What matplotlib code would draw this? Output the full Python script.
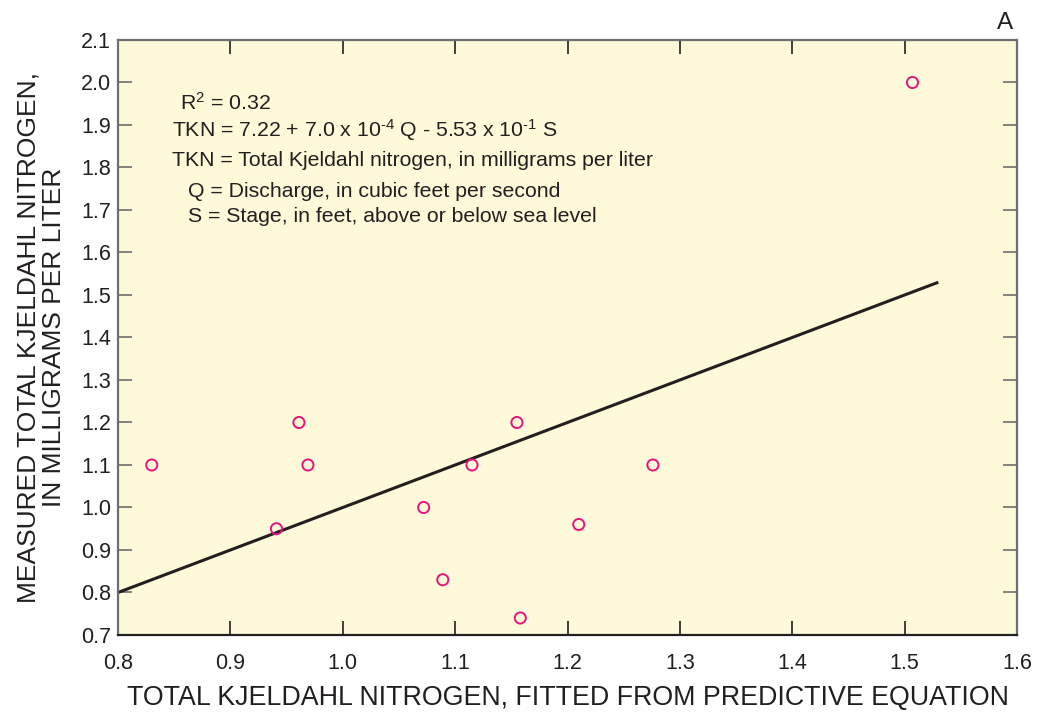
import matplotlib as mpl
import matplotlib.pyplot as plt
import numpy as np

# Fitted vs measured total Kjeldahl nitrogen (mg/L)
fitted = [0.830, 0.961, 0.969, 0.941, 1.072, 1.089, 1.115, 1.155, 1.158, 1.210, 1.276, 1.507]
measured = [1.10, 1.20, 1.10, 0.95, 1.00, 0.83, 1.10, 1.20, 0.74, 0.96, 1.10, 2.00]

# 1:1 line
line_x = [0.80, 1.53]
line_y = [0.80, 1.53]

x_ticks = np.round(np.arange(0.8, 1.61, 0.1), 1)
y_ticks = np.round(np.arange(0.7, 2.11, 0.1), 1)

mpl.rcParams["font.family"] = ["Liberation Sans", "DejaVu Sans"]
mpl.rcParams["mathtext.fontset"] = "custom"
mpl.rcParams["mathtext.rm"] = "Liberation Sans"
mpl.rcParams["mathtext.default"] = "regular"

fig = plt.figure(figsize=(10.39, 7.13), dpi=100)
ax = fig.add_axes([0.1136, 0.1094, 0.8652, 0.8345])
ax.set_facecolor("#fef9d8")

ax.plot(line_x, line_y, color="#231f20", lw=2.2, solid_capstyle="butt")
ax.scatter(fitted, measured, s=64, facecolors="none", edgecolors="#e6157d",
           linewidths=1.4, zorder=3)

ax.set_xlim(0.8, 1.6)
ax.set_ylim(0.7, 2.1)
ax.set_xticks(x_ticks)
ax.set_yticks(y_ticks)
ax.set_xticklabels([f"{v:.1f}" for v in x_ticks])
ax.set_yticklabels([f"{v:.1f}" for v in y_ticks])
ax.tick_params(direction="in", length=10, width=1.2, colors="#231f20",
               labelsize=15.5, top=True, right=True)
ax.tick_params(axis="x", pad=13)
ax.tick_params(axis="y", colors="#6d6e70", labelcolor="#231f20", pad=5)
for side in ["left", "top", "right"]:
    ax.spines[side].set_color("#6d6e70")
    ax.spines[side].set_linewidth(1.6)
ax.spines["bottom"].set_color("#231f20")
ax.spines["bottom"].set_linewidth(1.6)

ax.set_xlabel("TOTAL KJELDAHL NITROGEN, FITTED FROM PREDICTIVE EQUATION",
              fontsize=19.3, color="#231f20", labelpad=8)
ax.set_ylabel("MEASURED TOTAL KJELDAHL NITROGEN,\nIN MILLIGRAMS PER LITER",
              fontsize=19, color="#231f20", labelpad=11, linespacing=1.05)

txt = dict(transform=ax.transAxes, fontsize=15.3, color="#231f20", va="center", ha="left")
ax.text(0.0689, 0.894, r"R$^{2}$ = 0.32", **txt)
ax.text(0.0600, 0.849, "TKN = 7.22 + 7.0 x 10$^{\u2010 4}$ Q - 5.53 x 10$^{\u20101}$ S", **txt)
ax.text(0.0600, 0.798, "TKN = Total Kjeldahl nitrogen, in milligrams per liter", **txt)
ax.text(0.0778, 0.745, "Q = Discharge, in cubic feet per second", **txt)
ax.text(0.0778, 0.704, "S = Stage, in feet, above or below sea level", **txt)

fig.text(0.9595, 0.968, "A", fontsize=17.5, color="#231f20", ha="left", va="center")

fig.savefig("out.png", dpi=100, facecolor="white")
